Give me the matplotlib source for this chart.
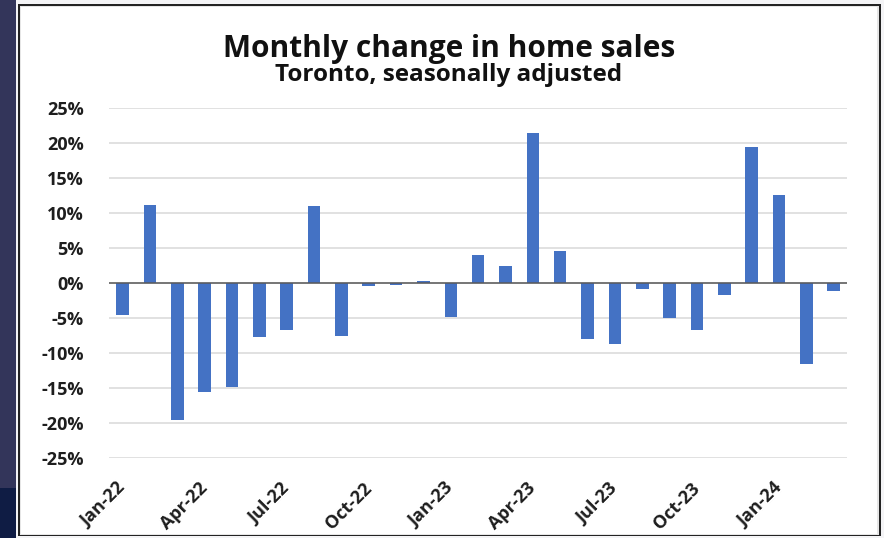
import matplotlib
matplotlib.use("Agg")
import matplotlib.pyplot as plt
from matplotlib.patches import Rectangle
from matplotlib.ticker import FuncFormatter, MultipleLocator

# Monthly change in Toronto home sales (seasonally adjusted), %
months = ["Jan-22", "Feb-22", "Mar-22", "Apr-22", "May-22", "Jun-22", "Jul-22",
          "Aug-22", "Sep-22", "Oct-22", "Nov-22", "Dec-22", "Jan-23", "Feb-23",
          "Mar-23", "Apr-23", "May-23", "Jun-23", "Jul-23", "Aug-23", "Sep-23",
          "Oct-23", "Nov-23", "Dec-23", "Jan-24", "Feb-24", "Mar-24"]
change_pct = [-4.6, 11.1, -19.6, -15.6, -14.9, -7.7, -6.8,
              11.0, -7.6, -0.5, -0.3, 0.2, -4.9, 3.9,
              2.4, 21.4, 4.5, -8.0, -8.7, -0.9, -5.0,
              -6.8, -1.8, 19.4, 12.6, -11.6, -1.2]
tick_labels = ["Jan-22", "Apr-22", "Jul-22", "Oct-22", "Jan-23",
               "Apr-23", "Jul-23", "Oct-23", "Jan-24"]

title = "Monthly change in home sales"
subtitle = "Toronto, seasonally adjusted"

W, H = 884, 538
FONT = ["Open Sans", "DejaVu Sans"]
TXT = "#1e1e1e"
BAR = "#4472C4"

fig = plt.figure(figsize=(W / 100, H / 100), dpi=100, facecolor="#33355a")


def px_rect(x0, y0, x1, y1, **kw):
    """Rectangle in figure pixels measured from the top-left corner."""
    return Rectangle((x0 / W, 1 - y1 / H), (x1 - x0) / W, (y1 - y0) / H,
                     transform=fig.transFigure, zorder=-5, **kw)


# backdrop and framed white panel
fig.patches.append(px_rect(0, 488, 16, 538, facecolor="#0f1c44", edgecolor="none"))
fig.patches.append(px_rect(16, 0, 884, 538, facecolor="#f4f4f6", edgecolor="none"))
fig.patches.append(px_rect(18, 4, 881, 536, facecolor="#232323", edgecolor="none"))
fig.patches.append(px_rect(20, 6, 879, 535, facecolor="#e6e6e6", edgecolor="none"))
fig.patches.append(px_rect(21, 7, 877, 534, facecolor="white", edgecolor="none"))

ax = fig.add_axes([109 / W, 1 - 457.7 / H, (847.3 - 109) / W, 350 / H])
ax.set_zorder(2)
ax.set_facecolor("none")

x = list(range(len(months)))
ax.bar(x, change_pct, width=0.46, color=BAR, zorder=3)

ax.set_xlim(-0.5, len(months) - 0.5)
ax.set_ylim(-25, 25)
ax.yaxis.set_major_locator(MultipleLocator(5))
ax.yaxis.set_major_formatter(FuncFormatter(lambda v, _: f"{v:.0f}%"))
ax.grid(axis="y", color="#d9d9d9", linewidth=1.1, zorder=0)
ax.axhline(0, color="#595959", linewidth=1.1, zorder=4)

for s in ax.spines.values():
    s.set_visible(False)

tick_pos = [months.index(m) for m in tick_labels]
ax.set_xticks(tick_pos)
ax.set_xticklabels(tick_labels, rotation=45, ha="right", va="center",
                   rotation_mode="anchor",
                   fontsize=13, fontweight="bold", color=TXT, family=FONT)
ax.tick_params(axis="x", length=0, pad=20)
ax.tick_params(axis="y", length=0, pad=18)
for lab in ax.get_yticklabels():
    lab.set_fontsize(13)
    lab.set_fontweight("bold")
    lab.set_color(TXT)
    lab.set_family(FONT)

fig.text(449 / W, 1 - 57.3 / H, title, ha="center", va="baseline",
         fontsize=21.5, fontweight="bold", color="#111111", family=FONT)
fig.text(448.5 / W, 1 - 81 / H, subtitle, ha="center", va="baseline",
         fontsize=17.5, fontweight="bold", color="#111111", family=FONT)

fig.savefig("out.png", dpi=100, facecolor=fig.get_facecolor())
